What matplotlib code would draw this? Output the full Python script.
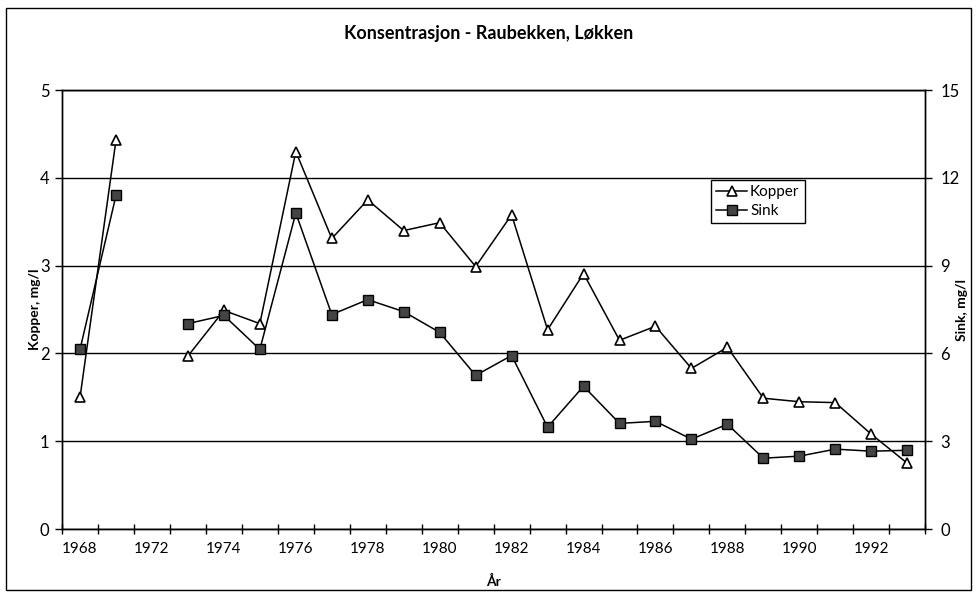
import matplotlib
matplotlib.use("Agg")
import matplotlib.pyplot as plt
from matplotlib.patches import Rectangle

categories = ["1968", "1970", "1972", "1973", "1974", "1975", "1976", "1977", "1978",
              "1979", "1980", "1981", "1982", "1983", "1984", "1985", "1986", "1987",
              "1988", "1989", "1990", "1991", "1992", "1993"]
kopper = [1.50, 4.43, None, 1.97, 2.49, 2.34, 4.30, 3.31, 3.75, 3.40, 3.49, 2.99,
          3.58, 2.27, 2.91, 2.15, 2.31, 1.83, 2.07, 1.49, 1.45, 1.44, 1.08, 0.75]
sink = [6.14, 11.4, None, 7.02, 7.3, 6.14, 10.8, 7.33, 7.84, 7.43, 6.72, 5.25,
        5.93, 3.48, 4.88, 3.61, 3.68, 3.07, 3.58, 2.42, 2.49, 2.73, 2.66, 2.69]
left_ticks = [0, 1, 2, 3, 4, 5]
right_ticks = [0, 3, 6, 9, 12, 15]

plt.rcParams['font.family'] = ['Lato', 'DejaVu Sans']

fig = plt.figure(figsize=(9.77, 6.01), dpi=100)
fig.patches.append(Rectangle((0.006, 0.018), 0.988, 0.968, transform=fig.transFigure,
                             fill=False, edgecolor='black', linewidth=1.0))

ax = fig.add_axes([0.0635, 0.1198, 0.8835, 0.7302])
ax2 = ax.twinx()

x = list(range(len(categories)))

def segments(vals):
    segs = []
    cur = []
    for i, v in enumerate(vals):
        if v is None:
            if cur:
                segs.append(cur)
            cur = []
        else:
            cur.append((i, v))
    if cur:
        segs.append(cur)
    return segs

for seg in segments(kopper):
    ax.plot([p[0] for p in seg], [p[1] for p in seg], color='black', lw=1.1,
            marker='^', markersize=7, markerfacecolor='white', markeredgecolor='black',
            markeredgewidth=1.2, zorder=4)
for seg in segments(sink):
    ax2.plot([p[0] for p in seg], [p[1] for p in seg], color='black', lw=1.1,
             marker='s', markersize=7, markerfacecolor='#444444', markeredgecolor='black',
             markeredgewidth=1.0, zorder=4)

ax.set_xlim(-0.5, len(categories) - 0.5)
ax.set_ylim(0, 5)
ax2.set_ylim(0, 15)

for t in left_ticks:
    ax.axhline(t, color='black', lw=1.0, zorder=1)

ax.set_xticks([i - 0.5 for i in range(len(categories) + 1)], minor=True)
ax.set_xticks(x[::2])
ax.set_xticklabels(categories[::2], fontsize=11)
ax.tick_params(axis='x', which='major', length=0, pad=9)
ax.tick_params(axis='x', which='minor', direction='inout', length=7, width=1)
ax.set_yticks(left_ticks)
ax.set_yticklabels([str(t) for t in left_ticks], fontsize=12)
ax.tick_params(axis='y', direction='out', length=5, width=1, pad=4)
ax2.set_yticks(right_ticks)
ax2.set_yticklabels([str(t) for t in right_ticks], fontsize=12)
ax2.tick_params(axis='y', direction='out', length=5, width=1, pad=6)

for a in (ax, ax2):
    for s in a.spines.values():
        s.set_linewidth(1.0)
        s.set_color('black')

fig.text(0.036, 0.485, "Kopper, mg/l", rotation=90, ha='center', va='center',
         fontsize=10, fontweight='bold')
fig.text(0.985, 0.485, "Sink, mg/l", rotation=90, ha='center', va='center',
         fontsize=10, fontweight='bold')
ax.set_xlabel("År", fontsize=10, fontweight='bold', labelpad=14)

fig.text(0.5, 0.945, "Konsentrasjon - Raubekken, Løkken", ha='center', va='center',
         fontsize=13, fontweight='bold')

h1 = ax.lines[0]
h2 = ax2.lines[0]
leg = ax2.legend([h1, h2], ["Kopper", "Sink"], loc='upper left',
                 bbox_to_anchor=(0.752, 0.795), fontsize=11, frameon=True,
                 fancybox=False, edgecolor='black', framealpha=1, handlelength=2.0,
                 borderpad=0.35, labelspacing=0.3, handletextpad=0.2, borderaxespad=0)
leg.get_frame().set_linewidth(1.0)

fig.savefig("out.png", dpi=100)
